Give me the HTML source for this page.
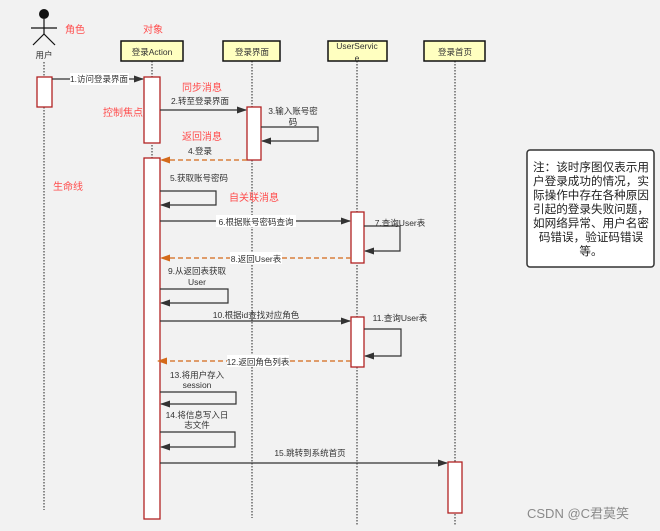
<!DOCTYPE html>
<html><head><meta charset="utf-8"><style>
html,body{margin:0;padding:0;background:#f2f2f2;}
svg{display:block;font-family:"Liberation Sans","Noto Sans CJK SC",sans-serif;}
.t{font-size:8.5px;fill:#333;}
.r{font-size:10px;fill:#ff4d4d;}
.n{font-size:11.6px;fill:#222;}
</style></head><body>
<svg width="660" height="531" viewBox="0 0 660 531" xmlns="http://www.w3.org/2000/svg">
<defs>
<marker id="a" markerWidth="10" markerHeight="8" refX="9" refY="4" orient="auto" markerUnits="userSpaceOnUse"><path d="M0,0.5 L10,4 L0,7.5 Z" fill="#333"/></marker>
<marker id="o" markerWidth="10" markerHeight="8" refX="9" refY="4" orient="auto" markerUnits="userSpaceOnUse"><path d="M0,0.5 L10,4 L0,7.5 Z" fill="#d46a1a"/></marker>
</defs>
<rect width="660" height="531" fill="#f2f2f2"/>
<g stroke="#222" stroke-width="1" stroke-dasharray="1.5,1.5">
<line x1="44" y1="62" x2="44" y2="510"/>
<line x1="152" y1="61" x2="152" y2="518"/>
<line x1="252" y1="61" x2="252" y2="518"/>
<line x1="357" y1="61" x2="357" y2="525"/>
<line x1="455" y1="61" x2="455" y2="525"/>
</g>
<circle cx="44" cy="14" r="5" fill="#111"/>
<g stroke="#111" stroke-width="1.2" fill="none">
<line x1="44" y1="19" x2="44" y2="34"/><line x1="31" y1="28" x2="57" y2="28"/>
<line x1="44" y1="34" x2="33" y2="45"/><line x1="44" y1="34" x2="55" y2="45"/>
</g>
<text x="44" y="58" class="t" text-anchor="middle">用户</text>
<g fill="#ffffc0" stroke="#111" stroke-width="1.5">
<rect x="121" y="41" width="62" height="20"/><rect x="223" y="41" width="57" height="20"/>
<rect x="328" y="41" width="59" height="20"/><rect x="424" y="41" width="61" height="20"/>
</g>
<g class="t" text-anchor="middle">
<text x="152" y="55">登录Action</text><text x="252" y="55">登录界面</text>
<text x="357" y="49">UserServic</text><text x="357" y="61">e</text><text x="455" y="55">登录首页</text>
</g>
<g fill="#fff" stroke="#b22222" stroke-width="1.3">
<rect x="37" y="77" width="15" height="30"/>
<rect x="144" y="77" width="16" height="66"/>
<rect x="144" y="158" width="16" height="361"/>
<rect x="247" y="107" width="14" height="53"/>
<rect x="351" y="212" width="13" height="51"/>
<rect x="351" y="317" width="13" height="50"/>
<rect x="448" y="462" width="14" height="51"/>
</g>
<g stroke="#333" stroke-width="1.2" fill="none">
<line x1="52" y1="79" x2="143" y2="79" marker-end="url(#a)"/>
<line x1="160" y1="110" x2="246" y2="110" marker-end="url(#a)"/>
<polyline points="261,127 318,127 318,141 262,141" marker-end="url(#a)"/>
<polyline points="160,191 216,191 216,205 161,205" marker-end="url(#a)"/>
<line x1="160" y1="221" x2="350" y2="221" marker-end="url(#a)"/>
<polyline points="364,226 400,226 400,251 365,251" marker-end="url(#a)"/>
<polyline points="160,289 228,289 228,303 161,303" marker-end="url(#a)"/>
<line x1="160" y1="321" x2="350" y2="321" marker-end="url(#a)"/>
<polyline points="364,329 401,329 401,356 365,356" marker-end="url(#a)"/>
<polyline points="160,392 236,392 236,404 161,404" marker-end="url(#a)"/>
<polyline points="160,432 235,432 235,447 161,447" marker-end="url(#a)"/>
<line x1="160" y1="463" x2="447" y2="463" marker-end="url(#a)"/>
</g>
<g stroke="#d46a1a" stroke-width="1.3" stroke-dasharray="5,3" fill="none">
<line x1="247" y1="160" x2="161" y2="160" marker-end="url(#o)"/>
<line x1="351" y1="258" x2="161" y2="258" marker-end="url(#o)"/>
<line x1="351" y1="361" x2="158" y2="361" marker-end="url(#o)"/>
</g>
<g fill="#fff">
<rect x="70" y="73" width="59" height="12"/>
<rect x="216" y="215" width="80" height="12"/>
<rect x="230" y="252" width="52" height="12"/>
<rect x="227" y="355" width="62" height="12"/>
</g>
<g class="t" text-anchor="middle">
<text x="99" y="82">1.访问登录界面</text>
<text x="200" y="104">2.转至登录界面</text>
<text x="293" y="114">3.输入账号密</text><text x="293" y="125">码</text>
<text x="200" y="154">4.登录</text>
<text x="199" y="181">5.获取账号密码</text>
<text x="256" y="225">6.根据账号密码查询</text>
<text x="400" y="226">7.查询User表</text>
<text x="256" y="262">8.返回User表</text>
<text x="197" y="274">9.从返回表获取</text><text x="197" y="285">User</text>
<text x="256" y="318">10.根据id查找对应角色</text>
<text x="400" y="321">11.查询User表</text>
<text x="258" y="365">12.返回角色列表</text>
<text x="197" y="378">13.将用户存入</text><text x="197" y="388">session</text>
<text x="197" y="418">14.将信息写入日</text><text x="197" y="428">志文件</text>
<text x="310" y="456">15.跳转到系统首页</text>
</g>
<g class="r">
<text x="65" y="33">角色</text><text x="143" y="33">对象</text>
<text x="182" y="91">同步消息</text><text x="103" y="116">控制焦点</text>
<text x="182" y="140">返回消息</text><text x="53" y="190">生命线</text>
<text x="229" y="201">自关联消息</text>
</g>
<rect x="527" y="150" width="127" height="117" rx="3" fill="#fff" stroke="#333" stroke-width="1.5"/>
<g class="n" text-anchor="middle">
<text x="591" y="171">注：该时序图仅表示用</text>
<text x="591" y="185">户登录成功的情况，实</text>
<text x="591" y="199">际操作中存在各种原因</text>
<text x="591" y="213">引起的登录失败问题，</text>
<text x="591" y="227">如网络异常、用户名密</text>
<text x="591" y="241">码错误，验证码错误</text>
<text x="591" y="255">等。</text>
</g>
<text x="527" y="518" font-size="13" fill="#8a8a8a">CSDN @C君莫笑</text>
</svg>
</body></html>
